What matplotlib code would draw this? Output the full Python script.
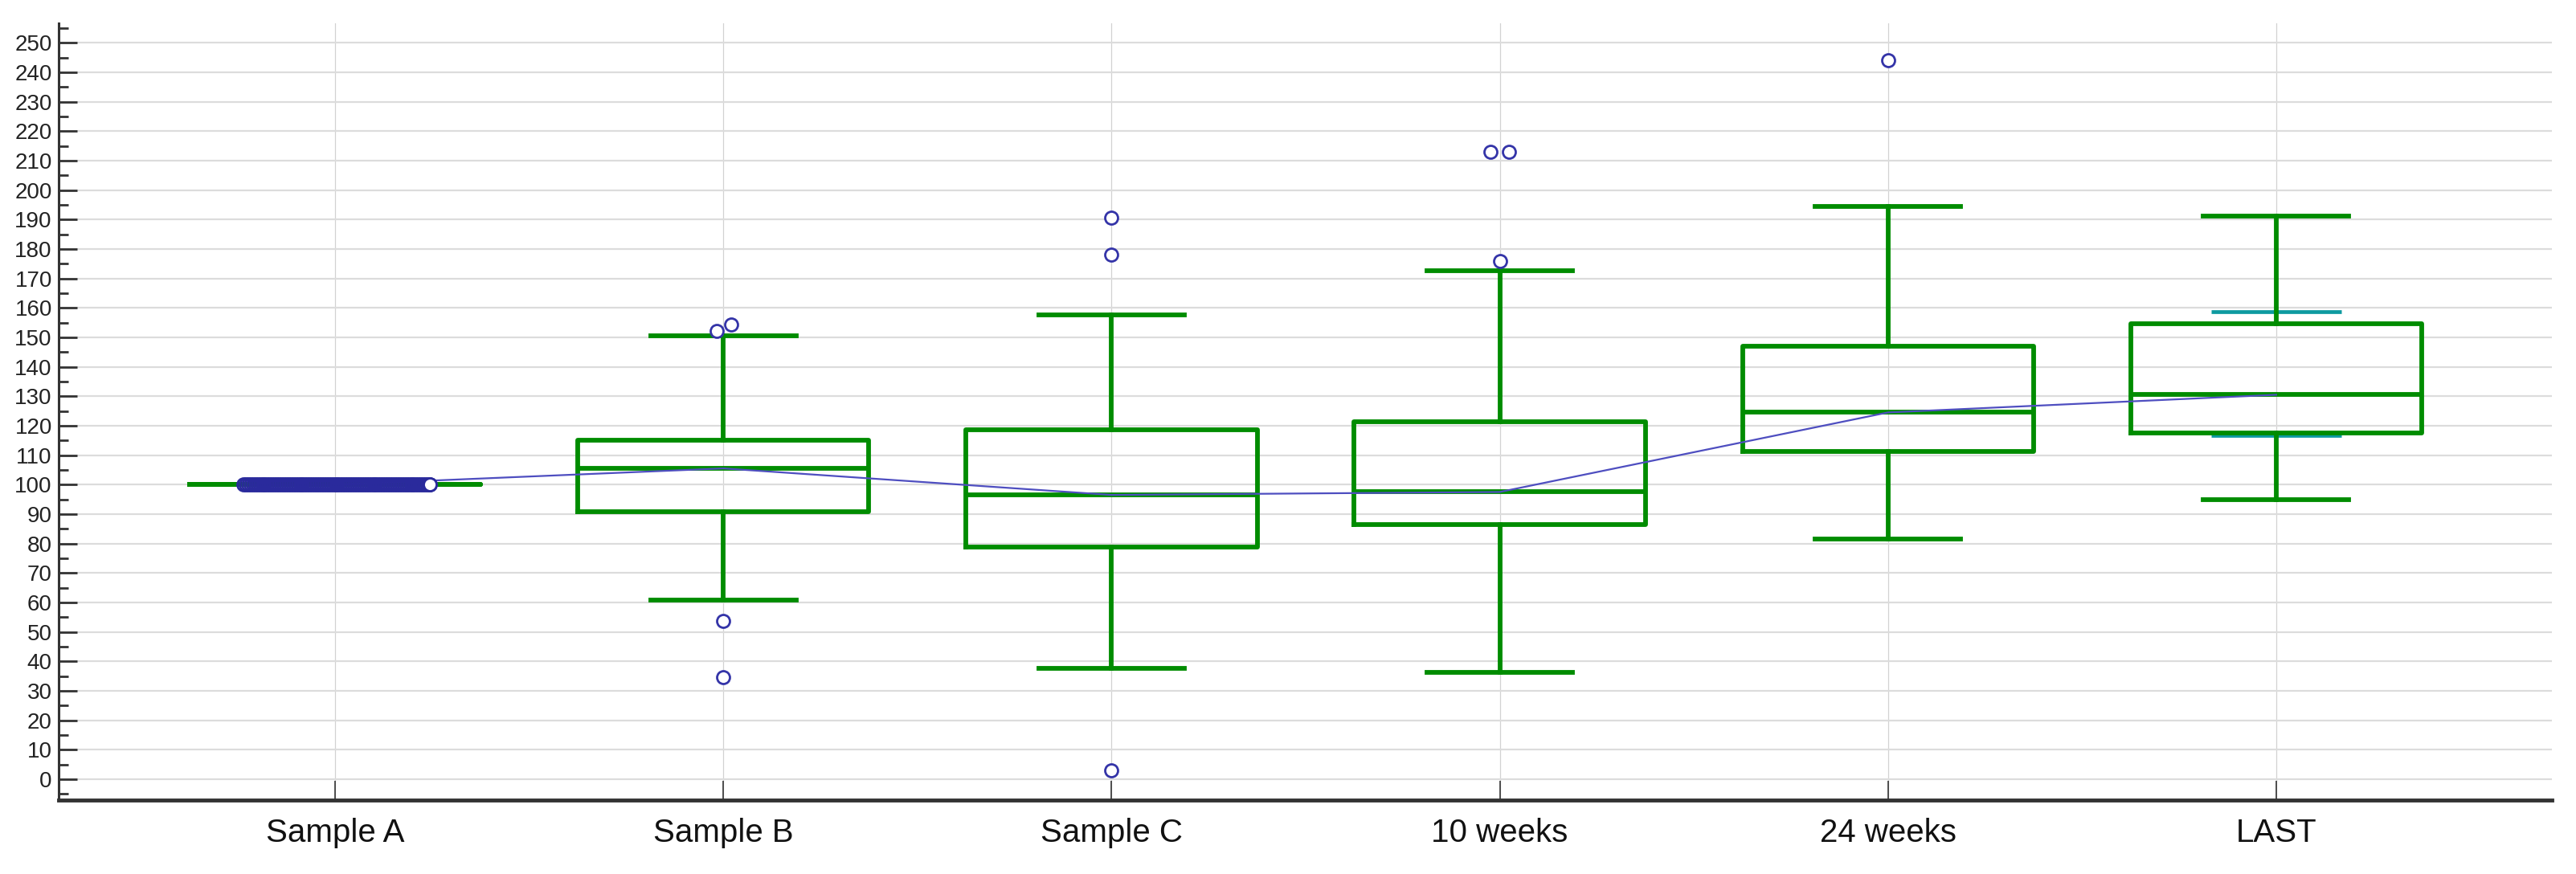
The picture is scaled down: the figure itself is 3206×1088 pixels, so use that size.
import numpy as np
import matplotlib
matplotlib.use('Agg')
import matplotlib.pyplot as plt
from matplotlib.ticker import MultipleLocator

plt.rcParams['font.family'] = ['Liberation Sans', 'DejaVu Sans']

# Box statistics
categories = ['Sample A', 'Sample B', 'Sample C', '10 weeks', '24 weeks', 'LAST']
whislo = [100, 60.7, 37.5, 36.3, 81.4, 94.9]
q1 = [100, 90.7, 78.7, 86.4, 111.2, 117.5]
med = [100, 105.5, 96.5, 97.5, 124.5, 130.5]
q3 = [100, 115.0, 118.5, 121.4, 147.1, 154.7]
whishi = [100, 150.5, 157.7, 172.6, 194.4, 191.3]

# Outside values per group
fliers = [
    [],
    [152.3, 154.3, 53.6, 34.7],
    [190.5, 178.0, 3.0],
    [213.1, 213.1, 176.0],
    [244.2],
    [],
]
# Sample A: all values equal to 100, drawn as a row of points
sample_a_n = 80
sample_a_value = 100

# extra cyan marks on LAST
last_cyan = [158.8, 116.7]

# horizontal nudge of overlapping outside values (in category units)
flier_dx = [
    [],
    [-0.017, 0.02, 0, 0],
    [0, 0, 0],
    [-0.024, 0.024, 0],
    [0],
    [],
]

green = '#008C00'
blue = '#3434A8'
pos = np.arange(1, len(categories) + 1)

fig = plt.figure(figsize=(32.06, 10.88), dpi=100)
ax = fig.add_axes([0.0228, 0.0846, 0.9678, 0.889])

stats = []
for i in range(len(categories)):
    stats.append(dict(med=med[i], q1=q1[i], q3=q3[i], whislo=whislo[i],
                      whishi=whishi[i], fliers=[]))

lw = 4.2
ax.bxp(stats, positions=pos, widths=0.75, showfliers=False,
       boxprops=dict(color=green, linewidth=lw),
       whiskerprops=dict(color=green, linewidth=lw),
       capprops=dict(color=green, linewidth=lw),
       medianprops=dict(color=green, linewidth=lw),
       capwidths=0.375, zorder=3)

# cyan marks on LAST
for v in last_cyan:
    ax.hlines(v, pos[5] - 0.167, pos[5] + 0.167, color='#0E9AA0', linewidth=3.4, zorder=2.5)

# line through medians
ax.plot(pos, med, color='#4E4EC0', linewidth=1.6, zorder=4)

# outside values
for i, vals in enumerate(fliers):
    if vals:
        ax.plot(pos[i] + np.array(flier_dx[i]), vals, 'o', ms=11.5, mfc='white',
                mec=blue, mew=2.0, zorder=5, clip_on=False)

a_x = pos[0] + np.linspace(-0.236, 0.244, sample_a_n)
ax.plot(a_x, np.full(sample_a_n, sample_a_value), 'o', ms=11.5, mfc='none',
        mec='#2A2A9C', mew=2.0, zorder=5)
ax.plot(a_x[-1], sample_a_value, 'o', ms=11.5, mfc='white', mec='#2A2A9C',
        mew=2.0, zorder=6)

ax.set_xlim(0.288, 6.71)
ax.set_ylim(-7.1, 256.7)

ax.yaxis.set_major_locator(MultipleLocator(10))
ax.yaxis.set_minor_locator(MultipleLocator(5))
ax.set_xticks(pos)
ax.set_xticklabels(categories)

ax.tick_params(axis='y', which='major', direction='in', length=16.5, width=2.0,
               color='#333333', labelsize=20, labelcolor='#222222', pad=6)
ax.tick_params(axis='y', which='minor', direction='in', length=8.5, width=2.0,
               color='#333333')
ax.tick_params(axis='x', which='major', direction='in', length=17, width=1.2,
               color='#333333', labelsize=29, labelcolor='#111111', pad=16)

ax.grid(axis='y', which='major', color='#DCDCDC', linewidth=1.6, zorder=0)
ax.grid(axis='x', which='major', color='#D2D2D2', linewidth=0.9, zorder=0)
ax.set_axisbelow(True)

for s in ['top', 'right']:
    ax.spines[s].set_visible(False)
ax.spines['left'].set_color('#333333')
ax.spines['left'].set_linewidth(2.2)
ax.spines['bottom'].set_color('#333333')
ax.spines['bottom'].set_linewidth(3.5)

fig.savefig('out.png', dpi=100)
